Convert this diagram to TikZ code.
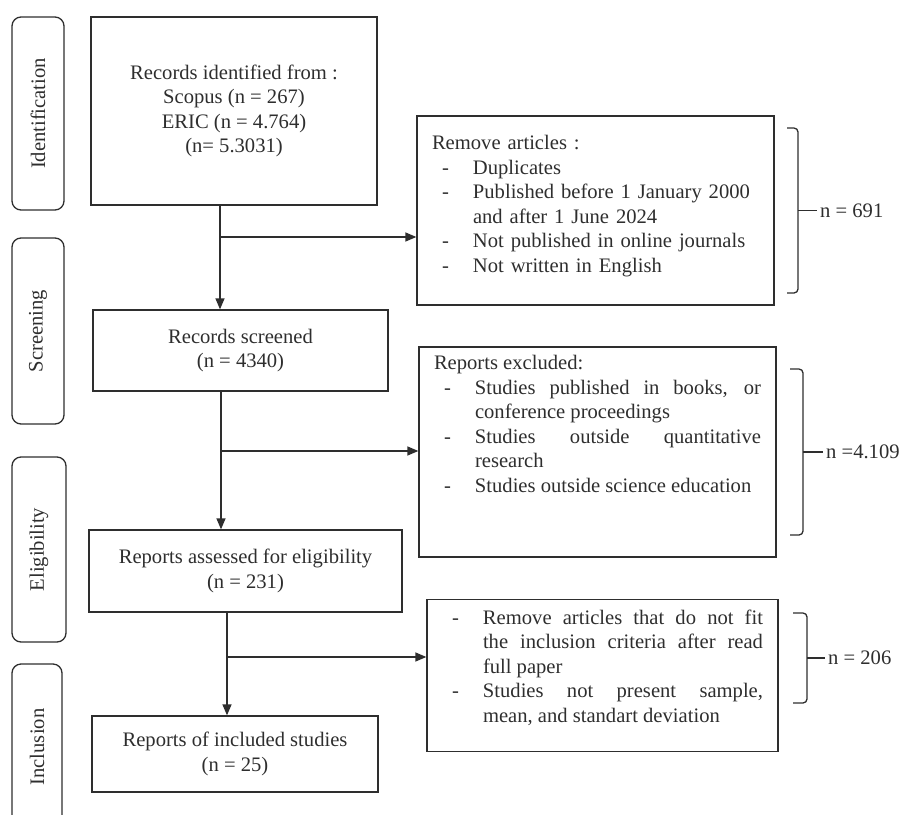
\documentclass[tikz,border=0pt]{standalone}
\usepackage{fontspec}
\setmainfont{Liberation Serif}
\usetikzlibrary{arrows.meta}
\hyphenpenalty=10000
\exhyphenpenalty=10000
\newcommand{\prismafont}{\fontsize{20.6}{24.5}\selectfont}
\newcommand{\dashitem}[1]{\par\noindent\hangindent=41pt\hangafter=0\llap{\makebox[31pt][l]{-}}#1\par}
\tikzset{
  stage/.style={draw, line width=1.3pt, font=\prismafont, align=center, inner sep=0pt},
  phase/.style={draw, line width=1.3pt, rounded corners=9pt, rotate=90, font=\prismafont, inner sep=0pt},
  listbox/.style={draw, line width=1.3pt, font=\prismafont, inner xsep=15pt, inner ysep=0pt},
  brace/.style={line width=1.3pt, rounded corners=4pt},
  count/.style={font=\prismafont, anchor=west, inner sep=3pt},
}
\begin{document}
\begin{tikzpicture}[x=1pt,y=-1pt,>={Triangle[length=11pt,width=9pt]},line join=miter,color=black!82]
\useasboundingbox (0,0) rectangle (904,814);
%%
% Phases
\node[phase, minimum width=193pt, minimum height=52pt] (idn) at (38,113.5) {Identification};
\node[phase, minimum width=186pt, minimum height=52pt] (scn) at (38,331) {Screening};
\node[phase, minimum width=185pt, minimum height=54pt] (elg) at (39,549.5) {Eligibility};
\node[phase, minimum width=166pt, minimum height=50pt] (inc) at (37,747) {Inclusion};
% Main stages
\node[stage, minimum width=286pt, minimum height=188pt] (rec) at (234,111)
  {Records identified from :\\Scopus (n = 267)\\ERIC (n = 4.764)\\(n= 5.3031)};
\node[stage, minimum width=295pt, minimum height=81pt] (scr) at (240.5,350.5)
  {Records screened\\(n = 4340)};
\node[stage, minimum width=313pt, minimum height=82pt] (elig) at (245.5,571)
  {Reports assessed for eligibility\\(n = 231)};
\node[stage, minimum width=286pt, minimum height=76pt] (incl) at (235,754)
  {Reports of included studies\\(n = 25)};
% Exclusions
\node[listbox, text width=327pt, minimum height=189pt, align=left] (ex1) at (595.5,210.5)
  {Remove articles :\par
   \dashitem{Duplicates}
   \dashitem{Published before 1 January 2000\newline and after 1 June 2024}
   \dashitem{Not published in online journals}
   \dashitem{Not written in English}
   \vspace*{9pt}};
\node[listbox, text width=327pt, minimum height=210pt, align=justify] (ex2) at (597.5,452)
  {\noindent Reports excluded:\par
   \dashitem{Studies published in books, or\linebreak conference proceedings}
   \dashitem{Studies outside quantitative\linebreak research}
   \dashitem{Studies outside science education}
   \vspace*{56pt}};
\node[listbox, text width=321pt, minimum height=145pt, align=justify] (ex3) at (602.5,675.5)
  {\dashitem{Remove articles that do not fit\linebreak the inclusion criteria after read\linebreak full paper}
   \dashitem{Studies not present sample,\linebreak mean, and standart deviation}
   \vspace*{26pt}};
% Counts
\node[count] (n1) at (817,210.5) {n = 691};
\node[count] (n2) at (823,452) {n =4.109};
\node[count] (n3) at (825,658) {n = 206};
%%
% Flow
\coordinate (j1) at (220,237);
\coordinate (j2) at (221,451);
\coordinate (j3) at (227,657);
\draw[->, line width=1.3pt] (rec.south -| j1) -- (scr.north -| j1);
\draw[->, line width=1.3pt] (j1) -- (j1 -| ex1.west);
\draw[->, line width=1.3pt] (scr.south -| j2) -- (elig.north -| j2);
\draw[->, line width=1.3pt] (j2) -- (j2 -| ex2.west);
\draw[->, line width=1.3pt] (elig.south -| j3) -- (incl.north -| j3);
\draw[->, line width=1.3pt] (j3) -- (j3 -| ex3.west);
% Braces
\draw[brace] (787,128) -| (798,293) -- (787,293);
\draw[line width=1.3pt] (798,210.5) -- (n1.west);
\draw[brace] (790,369) -| (803,535) -- (790,535);
\draw[line width=1.3pt] (803,452) -- (n2.west);
\draw[brace] (793,613) -| (807,703) -- (793,703);
\draw[line width=1.3pt] (807,658) -- (n3.west);
%
\end{tikzpicture}
\end{document}
